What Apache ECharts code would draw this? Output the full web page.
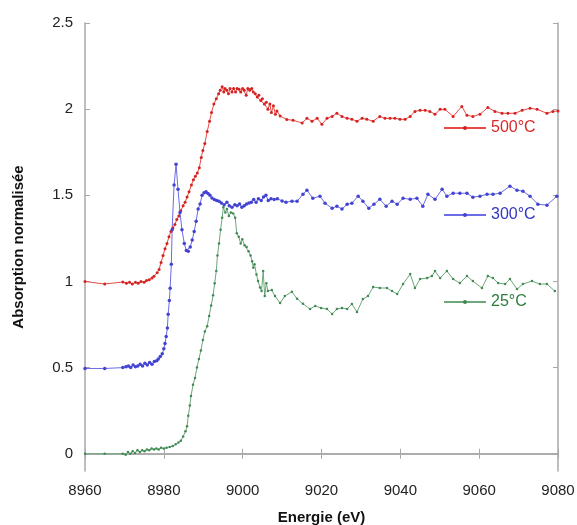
<!DOCTYPE html>
<html>
<head>
<meta charset="utf-8">
<script src="https://cdn.jsdelivr.net/npm/echarts@6/dist/echarts.min.js"></script>
<style>
  html, body { margin: 0; padding: 0; background: #fff; }
  #chart { width: 577px; height: 525px; }
</style>
</head>
<body>
<div id="chart"></div>
<script>
const seriesNames = ['500°C', '300°C', '25°C'];
const yTicks = [0, 0.5, 1, 1.5, 2, 2.5];

// [energy (eV), absorption]
const data500 = [
  [8960, 1.0], [8965, 0.985], [8969.6, 0.997], [8970.5, 0.99], [8971.3, 0.995], [8972, 0.985],
  [8972.8, 0.995], [8973.5, 0.99], [8974.2, 1.0], [8975, 0.995], [8975.6, 1.005], [8976.3, 1.01],
  [8977, 1.02], [8977.5, 1.03], [8978.3, 1.05], [8978.8, 1.07], [8979.3, 1.11], [8979.8, 1.15],
  [8980.3, 1.19], [8980.8, 1.22], [8981.3, 1.26], [8981.8, 1.29], [8982.3, 1.31], [8982.8, 1.33],
  [8983.3, 1.36], [8983.8, 1.38], [8984.3, 1.41], [8984.9, 1.44], [8985.4, 1.46], [8985.9, 1.49],
  [8986.4, 1.52], [8987, 1.56], [8987.5, 1.59], [8988, 1.61], [8988.5, 1.63], [8989, 1.66],
  [8989.5, 1.72], [8989.9, 1.76], [8990.4, 1.80], [8991, 1.87], [8991.6, 1.93], [8992.1, 1.98],
  [8992.7, 2.03], [8993.3, 2.06], [8993.9, 2.09], [8994.3, 2.11], [8994.8, 2.13], [8995.2, 2.10],
  [8995.5, 2.12], [8996, 2.11], [8996.4, 2.09], [8996.8, 2.12], [8997.3, 2.10], [8997.7, 2.12],
  [8998.2, 2.10], [8998.6, 2.12], [8999.1, 2.115], [8999.5, 2.10], [9000, 2.12], [9000.4, 2.11],
  [9000.9, 2.08], [9001.3, 2.12], [9001.8, 2.11], [9002.3, 2.12], [9002.7, 2.10], [9003.2, 2.09],
  [9003.7, 2.07], [9004.1, 2.08], [9004.6, 2.05], [9005, 2.06], [9005.5, 2.03], [9006, 2.04],
  [9006.4, 2.00], [9006.9, 2.03], [9007.3, 1.98], [9007.8, 2.02], [9008.3, 1.97], [9008.7, 1.99],
  [9009.5, 1.96], [9011.2, 1.94], [9012.8, 1.935], [9015.1, 1.92], [9016.3, 1.947], [9017.6, 1.93],
  [9018.9, 1.947], [9020.1, 1.912], [9021.4, 1.947], [9022.7, 1.958], [9023.9, 1.976], [9025.2, 1.958],
  [9026.5, 1.947], [9027.7, 1.941], [9029, 1.93], [9030.3, 1.947], [9031.5, 1.941], [9033.1, 1.93],
  [9034.8, 1.958], [9036.1, 1.947], [9037.4, 1.947], [9038.6, 1.947], [9039.9, 1.941], [9041.2, 1.941],
  [9042.5, 1.958], [9043.7, 1.987], [9045, 1.993], [9046.3, 1.993], [9047.5, 1.987], [9048.8, 1.97],
  [9050.1, 1.999], [9051.3, 1.999], [9053.4, 1.958], [9055.6, 2.016], [9056.9, 1.964], [9058.4, 1.958],
  [9060.2, 1.97], [9062.2, 2.01], [9064, 1.987], [9065.8, 1.976], [9067.3, 1.976], [9069.1, 1.976],
  [9070.9, 1.993], [9072.9, 2.005], [9074.7, 1.999], [9077.2, 1.976], [9078.7, 1.987], [9080, 1.99]
];

const data300 = [
  [8960, 0.495], [8965, 0.495], [8969.6, 0.50], [8970.4, 0.505], [8971, 0.51], [8971.6, 0.50],
  [8972.2, 0.515], [8972.8, 0.505], [8973.4, 0.51], [8974, 0.52], [8974.6, 0.51], [8975.2, 0.525],
  [8975.8, 0.515], [8976.4, 0.53], [8977, 0.52], [8977.6, 0.535], [8978.2, 0.54], [8978.6, 0.55],
  [8979.1, 0.565], [8979.6, 0.58], [8980, 0.61], [8980.3, 0.64], [8980.6, 0.68], [8980.9, 0.73],
  [8981.1, 0.81], [8981.4, 0.89], [8981.6, 0.96], [8981.9, 1.1], [8982.1, 1.30], [8982.6, 1.56],
  [8983.1, 1.68], [8983.6, 1.535], [8984.1, 1.40], [8984.6, 1.30], [8985.2, 1.22], [8985.7, 1.18],
  [8986.2, 1.176], [8986.7, 1.20], [8987.2, 1.24], [8987.7, 1.29], [8988.2, 1.35], [8988.7, 1.42],
  [8989.2, 1.45], [8989.7, 1.50], [8990.2, 1.515], [8990.7, 1.52], [8991.2, 1.51], [8991.7, 1.50],
  [8992.2, 1.485], [8992.8, 1.475], [8993.4, 1.47], [8994, 1.465], [8994.6, 1.455], [8995.3, 1.445],
  [8996, 1.46], [8996.6, 1.44], [8997.3, 1.43], [8998, 1.445], [8998.6, 1.44], [8999.2, 1.45],
  [8999.8, 1.43], [9000.4, 1.44], [9001, 1.45], [9001.6, 1.455], [9002.2, 1.46], [9002.8, 1.475],
  [9003.4, 1.46], [9004, 1.48], [9004.7, 1.47], [9005.3, 1.49], [9005.9, 1.50], [9006.5, 1.47],
  [9007.2, 1.48], [9008, 1.475], [9008.8, 1.48], [9010, 1.467], [9011, 1.46], [9012.5, 1.466],
  [9013.8, 1.466], [9015.3, 1.506], [9016.3, 1.53], [9017.8, 1.483], [9019.6, 1.495], [9020.9, 1.454],
  [9022.7, 1.425], [9023.9, 1.437], [9025.2, 1.42], [9026.5, 1.448], [9027.7, 1.454], [9029.3, 1.495],
  [9030.5, 1.466], [9032, 1.425], [9033.3, 1.448], [9034.8, 1.477], [9036.4, 1.437], [9037.9, 1.466],
  [9039.2, 1.448], [9040.7, 1.483], [9042.5, 1.477], [9044.2, 1.483], [9045.7, 1.437], [9047, 1.506],
  [9048.8, 1.477], [9050.6, 1.535], [9051.8, 1.495], [9053.4, 1.512], [9055.1, 1.512], [9056.9, 1.512],
  [9058.4, 1.489], [9060.2, 1.495], [9062, 1.506], [9063.5, 1.506], [9065.3, 1.512], [9067.8, 1.553],
  [9069.6, 1.53], [9071.1, 1.524], [9072.9, 1.495], [9074.9, 1.448], [9077.2, 1.443], [9079.7, 1.495]
];

const data25 = [
  [8960, 0.0], [8965, 0.0], [8969.6, 0.0], [8970.3, -0.005], [8970.9, 0.01], [8971.5, 0.0],
  [8972.1, 0.015], [8972.7, 0.005], [8973.3, 0.02], [8973.9, 0.01], [8974.5, 0.02], [8975.1, 0.015],
  [8975.7, 0.025], [8976.3, 0.02], [8976.9, 0.03], [8977.5, 0.025], [8978.1, 0.03], [8978.7, 0.025],
  [8979.3, 0.035], [8980, 0.03], [8980.7, 0.035], [8981.5, 0.04], [8982.3, 0.045], [8983, 0.055],
  [8983.7, 0.065], [8984.3, 0.075], [8984.9, 0.10], [8985.5, 0.13], [8985.9, 0.16], [8986.2, 0.22],
  [8986.6, 0.28], [8986.9, 0.335], [8987.4, 0.40], [8987.9, 0.44], [8988.4, 0.50], [8988.9, 0.55],
  [8989.4, 0.60], [8989.9, 0.66], [8990.4, 0.71], [8991, 0.74], [8991.5, 0.80], [8992, 0.86],
  [8992.5, 0.92], [8992.9, 0.99], [8993.3, 1.06], [8993.6, 1.15], [8994, 1.22], [8994.4, 1.30],
  [8994.8, 1.37], [8995.1, 1.43], [8995.6, 1.40], [8996, 1.42], [8996.5, 1.38], [8997, 1.40],
  [8997.6, 1.395], [8998.1, 1.37], [8998.5, 1.28], [8999, 1.26], [8999.5, 1.22], [8999.9, 1.245],
  [9000.5, 1.21], [9001, 1.2], [9001.5, 1.175], [9002, 1.15], [9002.4, 1.118], [9002.7, 1.08],
  [9003, 1.10], [9003.5, 1.04], [9003.9, 1.002], [9004.4, 0.965], [9004.8, 0.945], [9005.2, 1.06],
  [9005.6, 0.915], [9006, 0.99], [9006.4, 0.945], [9007.4, 0.95], [9008.2, 0.915], [9009.5, 0.875],
  [9010.7, 0.915], [9012.5, 0.94], [9013.8, 0.90], [9015.3, 0.87], [9017.1, 0.84], [9018.4, 0.858],
  [9019.9, 0.846], [9021.4, 0.84], [9022.7, 0.811], [9023.9, 0.84], [9025.2, 0.846], [9026.5, 0.84],
  [9027.7, 0.869], [9029, 0.823], [9030.5, 0.898], [9031.8, 0.915], [9033.1, 0.968], [9034.8, 0.962],
  [9036.6, 0.962], [9037.9, 0.944], [9039.2, 0.927], [9040.7, 0.985], [9042.5, 1.043], [9043.7, 0.962],
  [9045, 1.014], [9046.8, 1.02], [9048, 1.031], [9048.8, 1.06], [9050.1, 1.02], [9051.8, 1.06],
  [9053.4, 1.014], [9055.1, 0.991], [9056.9, 1.031], [9058.4, 1.002], [9060.7, 0.962], [9062.2, 1.031],
  [9063.5, 1.02], [9064.8, 0.991], [9066.6, 0.985], [9067.8, 1.014], [9069.6, 0.956], [9071.1, 0.985],
  [9073.4, 1.002], [9075.4, 0.985], [9077.2, 0.985], [9079.2, 0.944]
];

const lineColors = ['#ea4a44', '#6c6ce6', '#6fa77c'];
const dotColors = ['#d42222', '#4343d2', '#3f8a52'];
const textColors = ['#d92a2a', '#3434c4', '#2e7d3e'];
const dotSizes = [3, 3.5, 2.5];
const allData = [data500, data300, data25];

const frameColor = '#a8a8a8';
const font = 'Liberation Sans, Arial, sans-serif';

const myChart = echarts.init(document.getElementById('chart'));

const xCommon = {
  type: 'value',
  min: 8960,
  max: 9080,
  interval: 20,
  axisLine: { lineStyle: { color: frameColor, width: 1.5 } },
  axisTick: { inside: true, length: 5, lineStyle: { color: frameColor } },
  splitLine: { show: false }
};
const yCommon = {
  type: 'value',
  min: -0.1,
  max: 2.5,
  axisLine: { show: true, lineStyle: { color: frameColor, width: 1.5 } },
  axisTick: { inside: true, length: 5, customValues: yTicks, lineStyle: { color: frameColor } },
  splitLine: { show: false }
};

myChart.setOption({
  animation: false,
  backgroundColor: '#fff',
  grid: { left: 85, right: 19, top: 23, bottom: 54, outerBoundsMode: 'none' },
  legend: {
    orient: 'vertical',
    left: 443,
    top: 120,
    padding: 0,
    itemWidth: 42,
    itemHeight: 5,
    itemGap: 71,
    textStyle: { fontFamily: font, fontSize: 16, lineHeight: 16 },
    data: seriesNames.map((n, i) => ({ name: n, textStyle: { color: textColors[i] } }))
  },
  xAxis: [
    Object.assign({}, xCommon, {
      position: 'bottom',
      name: 'Energie (eV)',
      nameLocation: 'middle',
      nameGap: 39,
      nameTextStyle: { fontFamily: font, fontSize: 15, fontWeight: 'bold', color: '#111' },
      axisLabel: { fontFamily: font, fontSize: 15, color: '#222', margin: 12, formatter: v => String(v) }
    }),
    Object.assign({}, xCommon, { position: 'top', axisLabel: { show: false } })
  ],
  yAxis: [
    Object.assign({}, yCommon, {
      position: 'left',
      name: 'Absorption normalisée',
      nameLocation: 'middle',
      nameGap: 59,
      nameTextStyle: { fontFamily: font, fontSize: 15, fontWeight: 'bold', color: '#111' },
      axisLabel: { fontFamily: font, fontSize: 15, color: '#222', margin: 12, customValues: yTicks }
    }),
    Object.assign({}, yCommon, { position: 'right', axisLabel: { show: false } })
  ],
  series: seriesNames.map((n, i) => ({
    name: n,
    type: 'line',
    data: allData[i],
    symbol: 'circle',
    symbolSize: dotSizes[i],
    showSymbol: true,
    lineStyle: { color: lineColors[i], width: 1 },
    itemStyle: { color: dotColors[i] },
    emphasis: { disabled: true }
  }))
});
</script>
</body>
</html>
